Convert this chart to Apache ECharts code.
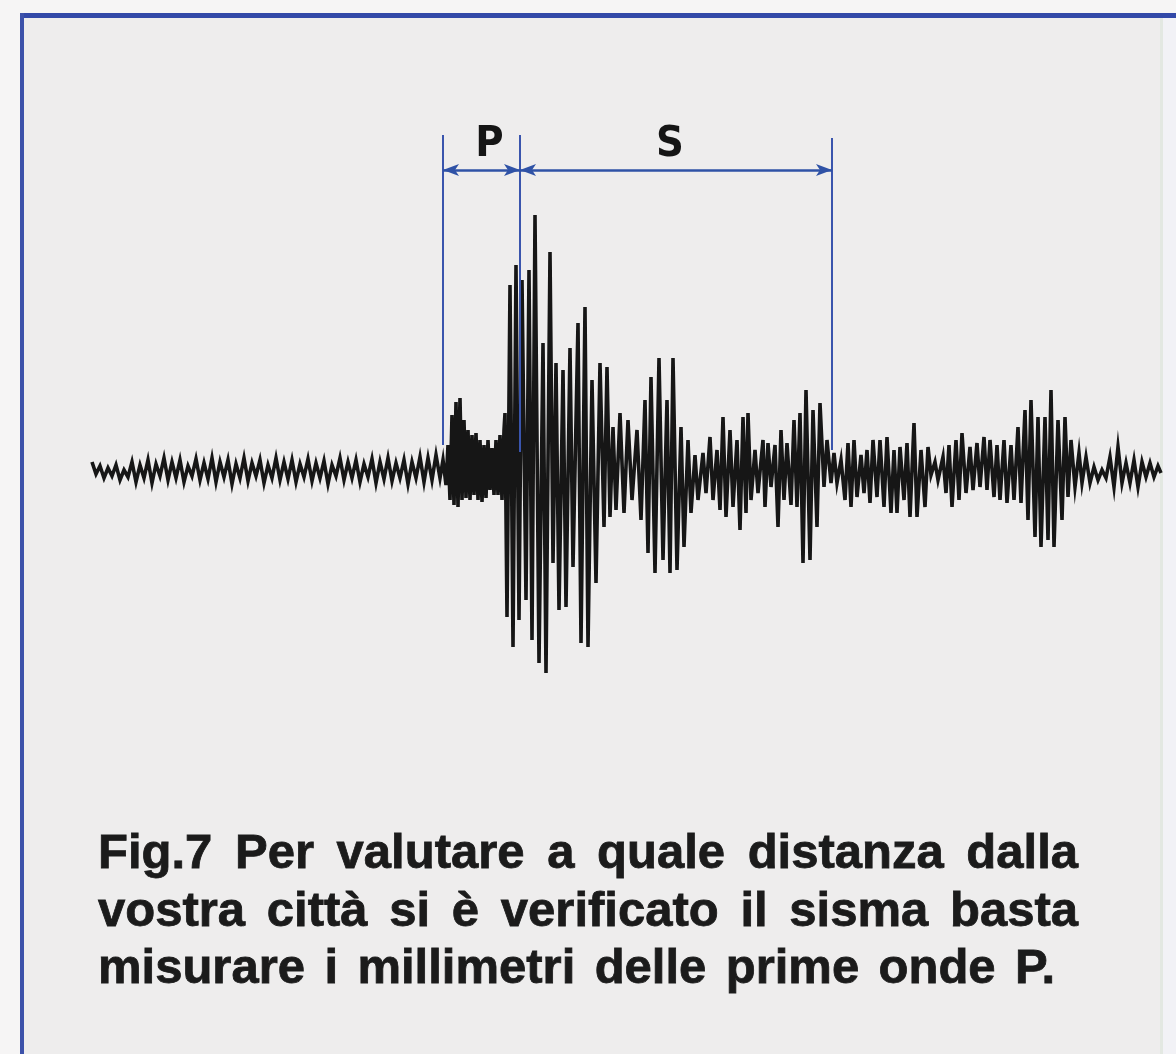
<!DOCTYPE html>
<html>
<head>
<meta charset="utf-8">
<script src="https://cdn.jsdelivr.net/npm/echarts@6/dist/echarts.min.js"></script>
<style>
html,body{margin:0;padding:0;background:#f6f5f5;}
#chart{width:1176px;height:1054px;}
</style>
</head>
<body>
<div id="chart"></div>
<script>
// Seismogram trace: time (arbitrary units) and amplitude (arbitrary units, + = up)
const time = [
0,4,8,12,16,20,24,28,32,36,40,44,48,52,56,60,64,68,72,76,80,84,88,92,96,100,104,108,112,116,120,124,128,132,136,140,144,148,152,156,160,164,168,172,176,180,184,188,192,196,200,204,208,212,216,220,224,228,232,236,240,244,248,252,256,260,264,268,272,276,280,284,288,292,296,300,304,308,312,316,320,324,328,332,336,340,344,348,351,
354,356,358,360,362,364,366,368,370,372,374,376,378,380,382,384,386,388,390,392,394,396,398,400,402,404,406,408,410,412,
413,415,418,421,424,427,430,434,437,440,443,447,451,454,458,461,464,467,471,474,478,481,486,489,493,496,500,504,508,512,515,518,521,524,528,532,536,540,545,549,553,556,559,563,567,571,575,578,581,585,589,592,596,599,603,606,
611,614,618,621,625,628,631,634,638,641,645,648,651,654,656,659,663,666,671,673,676,679,683,686,689,692,695,699,702,705,708,711,714,718,721,725,728,732,735,739,742,745,749,753,756,759,762,765,769,772,775,778,781,785,788,792,795,799,802,805,808,812,815,818,822,825,829,833,836,839,843,846,
851,854,857,860,864,867,870,874,878,881,885,888,892,895,898,902,905,908,912,915,919,922,926,929,933,936,939,943,946,949,953,956,959,962,966,970,973,976,979,983,987,990,994,998,1002,1006,1010,1014,1018,1022,1026,1030,1034,1038,1042,1046,1050,1054,1058,1062,1066,1069
];
const amplitude = [
8,-4,4,-8,2,-6,5,-10,0,-7,8,-12,5,-8,10,-13,6,-6,12,-10,8,-8,10,-12,4,-6,11,-10,7,-9,12,-12,8,-7,10,-14,6,-8,12,-11,7,-6,10,-13,5,-8,12,-10,8,-9,10,-12,6,-7,11,-11,7,-8,9,-14,5,-6,12,-10,8,-8,10,-12,6,-7,11,-13,8,-9,12,-11,7,-8,10,-14,8,-8,13,-12,12,-10,15,-8,10,
-15,25,-30,55,-35,68,-37,72,-30,50,-28,40,-30,35,-25,37,-30,30,-32,25,-28,30,-20,22,-25,30,-25,35,-30,40,
57,-147,185,-177,205,-150,190,-130,200,-170,255,-193,127,-203,218,-93,107,-140,100,-137,122,-97,147,-173,163,-177,90,-113,107,-57,103,-47,43,-40,57,-43,50,-30,40,-50,70,-83,93,-103,112,-90,70,-103,112,-100,43,-77,30,-43,15,-30,
17,-23,33,-30,20,-40,53,-47,40,-37,30,-60,53,-43,57,-30,20,-23,30,-37,27,-17,25,-57,40,-30,27,-35,50,-37,57,-93,80,-90,60,-57,67,-17,30,-13,17,-13,10,-30,27,-37,30,-27,15,-23,20,-33,30,-27,30,-37,33,-43,20,-43,23,-30,27,-47,47,-47,20,-37,23,-5,8,-10,
13,-23,25,-37,30,-30,37,-23,23,-20,27,-17,33,-20,30,-27,25,-30,30,-33,25,-30,43,-33,60,-50,70,-67,53,-77,53,-70,80,-77,50,-50,53,-27,30,-17,17,-13,13,-13,3,-10,0,-8,13,-17,23,-13,7,-13,10,-17,8,-7,7,-7,4,-3
];
// P / S markers (time units) and their heights (amplitude units)
const markerTimes = [351, 428, 740];
const markerTop = [335, 335, 332];
const markerBottom = [25, 18, 20];
const arrowLevel = 300;
const segmentLabels = ['P', 'S'];
const captionLines = [
  'Fig.7 Per valutare a quale distanza dalla',
  'vostra città si è verificato il sisma basta',
  'misurare i millimetri delle prime onde P.'
];

const chart = echarts.init(document.getElementById('chart'));
const traceData = time.map((t, i) => [t, amplitude[i]]);

const blue = '#3a55ad';
const markData = [];
markerTimes.forEach((t, i) => {
  markData.push([{coord: [t, markerTop[i]]}, {coord: [t, markerBottom[i]]}]);
});
const labelOffsets = [[8, 0], [-6, 0]];
const segLines = [];
for (let i = 0; i < segmentLabels.length; i++) {
  segLines.push([
    {coord: [markerTimes[i], arrowLevel], name: segmentLabels[i], label: {offset: labelOffsets[i]}},
    {coord: [markerTimes[i + 1], arrowLevel]}
  ]);
}

// caption layout (justified text)
const captionFont = 'bold 49px "Liberation Sans", Arial, sans-serif';
const mctx = document.createElement('canvas').getContext('2d');
mctx.font = captionFont;
const captionBox = [
  {x0: 98, x1: 1078, y: 854},
  {x0: 98, x1: 1078, y: 912},
  {x0: 98, x1: 1055, y: 969}
];
const graphics = [
  {type: 'rect', shape: {x: 20, y: 13, width: 1156, height: 1041}, style: {fill: '#eeeded'}, z: -10, silent: true},
  {type: 'rect', shape: {x: 1160, y: 18, width: 3, height: 1036}, style: {fill: '#e3e8e2'}, z: -9, silent: true},
  {type: 'rect', shape: {x: 1163, y: 18, width: 13, height: 1036}, style: {fill: '#f2f2f6'}, z: -9, silent: true},
  {type: 'rect', shape: {x: 20, y: 13, width: 1156, height: 5}, style: {fill: '#3349a8'}, z: 10, silent: true},
  {type: 'rect', shape: {x: 20, y: 13, width: 4, height: 1041}, style: {fill: '#3d52aa'}, z: 10, silent: true}
];
captionLines.forEach((line, li) => {
  const words = line.split(' ');
  const widths = words.map(w => mctx.measureText(w).width);
  const total = widths.reduce((a, b) => a + b, 0);
  const box = captionBox[li];
  const gap = (box.x1 - box.x0 - total) / (words.length - 1);
  let x = box.x0;
  words.forEach((w, wi) => {
    graphics.push({
      type: 'text', x: x, y: box.y, silent: true, z: 10,
      style: {text: w, font: captionFont, fill: '#1b1b1b', stroke: '#1b1b1b', lineWidth: 0.8,
              verticalAlign: 'middle', align: 'left'}
    });
    x += widths[wi] + gap;
  });
});

chart.setOption({
  backgroundColor: '#f6f5f5',
  animation: false,
  grid: {left: 92, right: 14, top: 70, bottom: 184},
  xAxis: {type: 'value', min: 0, max: 1070, show: false},
  yAxis: {type: 'value', min: -400, max: 400, show: false},
  graphic: graphics,
  series: [
    {
      type: 'line',
      data: traceData,
      symbol: 'none',
      lineStyle: {color: '#161616', width: 3.6, join: 'miter'},
      z: 2,
      markLine: {
        silent: true,
        symbol: ['none', 'none'],
        lineStyle: {color: blue, width: 2, type: 'solid'},
        label: {show: false},
        data: markData
      }
    },
    {
      type: 'line',
      data: [],
      z: 3,
      markLine: {
        silent: true,
        symbol: ['arrow', 'arrow'],
        symbolSize: [9, 16],
        lineStyle: {color: '#2f52a6', width: 2.5, type: 'solid'},
        label: {
          show: true,
          position: 'insideMiddleTop',
          distance: 4,
          formatter: p => p.name,
          color: '#151515',
          fontFamily: '"DejaVu Sans Condensed", "Liberation Sans Narrow", "Liberation Sans", Arial, sans-serif',
          fontWeight: 'bold',
          fontSize: 43
        },
        data: segLines
      }
    }
  ]
});
</script>
</body>
</html>
